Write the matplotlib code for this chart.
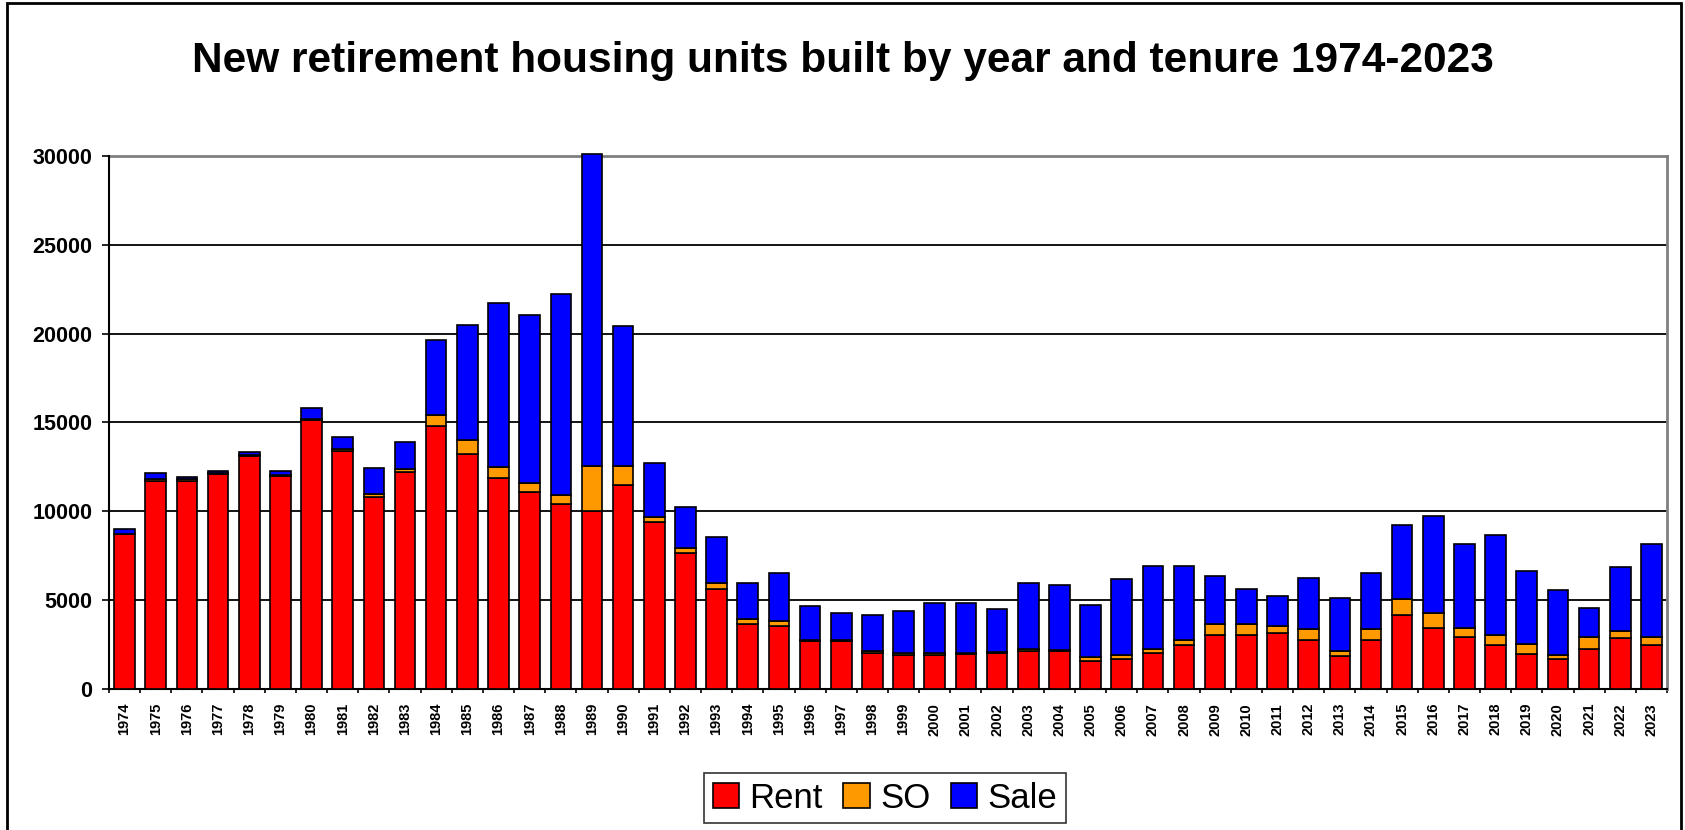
import matplotlib
matplotlib.use("Agg")
import matplotlib.pyplot as plt
import numpy as np
from matplotlib.patches import Rectangle, Patch

plt.rcParams['font.family'] = ['Liberation Sans', 'DejaVu Sans']

years = list(range(1974, 2024))
rent = [8700, 11700, 11700, 12100, 13100, 12000, 15150, 13400, 10800, 12200,
        14800, 13200, 11900, 11100, 10400, 10000, 11500, 9400, 7650, 5650,
        3650, 3550, 2700, 2700, 2050, 1900, 1900, 1950, 2000, 2150,
        2150, 1600, 1700, 2050, 2450, 3050, 3050, 3150, 2750, 1850,
        2750, 4150, 3450, 2950, 2450, 1950, 1700, 2250, 2850, 2450]
so = [50, 100, 100, 50, 50, 50, 50, 100, 200, 200,
      600, 800, 600, 500, 500, 2550, 1050, 300, 300, 300,
      300, 300, 80, 80, 100, 100, 100, 50, 100, 100,
      50, 200, 200, 200, 300, 600, 600, 400, 600, 300,
      600, 900, 800, 500, 600, 600, 200, 700, 400, 500]
sale = [250, 350, 150, 100, 200, 200, 600, 700, 1450, 1500,
        4250, 6500, 9250, 9450, 11350, 17550, 7900, 3000, 2300, 2600,
        2000, 2700, 1900, 1500, 2000, 2400, 2850, 2850, 2400, 3700,
        3650, 2900, 4300, 4700, 4200, 2700, 2000, 1700, 2900, 3000,
        3200, 4200, 5500, 4700, 5600, 4100, 3700, 1600, 3600, 5200]
series_names = ["Rent", "SO", "Sale"]
colors = ["#FF0000", "#FF9900", "#0000FF"]
yticks = [0, 5000, 10000, 15000, 20000, 25000, 30000]
title = "New retirement housing units built by year and tenure 1974-2023"

W, H = 1685, 830
fig = plt.figure(figsize=(W / 100, H / 100), dpi=100)
ax = fig.add_axes([109 / W, 1 - 689 / H, (1667 - 109) / W, (689 - 156) / H])

x = np.arange(len(years))
rent_a = np.array(rent)
so_a = np.array(so)
sale_a = np.array(sale)
bw = 0.66
kw = dict(width=bw, edgecolor="black", linewidth=1.2, zorder=3, clip_on=False)
ax.bar(x, rent_a, color=colors[0], **kw)
ax.bar(x, so_a, bottom=rent_a, color=colors[1], **kw)
ax.bar(x, sale_a, bottom=rent_a + so_a, color=colors[2], **kw)

ax.set_xlim(-0.5, len(years) - 0.5)
ax.set_ylim(0, 30000)
ax.set_yticks(yticks)
ax.set_yticklabels([str(v) for v in yticks], fontsize=15.5, fontweight="bold")
ax.tick_params(axis="y", direction="out", length=5, width=1.2, pad=7)
for v in yticks[1:-1]:
    ax.axhline(v, color="black", linewidth=1.3, zorder=1)

ax.set_xticks(x)
ax.set_xticklabels([str(y) for y in years], rotation=90, fontsize=10.5, fontweight="bold")
ax.tick_params(axis="x", which="major", length=0, pad=10)
ax.set_xticks(np.arange(-0.5, len(years), 1.0), minor=True)
ax.tick_params(axis="x", which="minor", direction="out", length=3, width=1.2)

for s in ["left", "bottom"]:
    ax.spines[s].set_color("black")
    ax.spines[s].set_linewidth(1.5)
for s in ["top", "right"]:
    ax.spines[s].set_color("#808080")
    ax.spines[s].set_linewidth(2)
    ax.spines[s].set_zorder(2)

fig.text(0.5, 1 - 61 / H, title, ha="center", va="center", fontsize=30.5, fontweight="bold")

handles = [Patch(facecolor=c, edgecolor="black", linewidth=1.2) for c in colors]
leg = fig.legend(handles, series_names, loc="center", bbox_to_anchor=(885 / W, 1 - 798 / H),
                 ncol=3, fontsize=25, frameon=True, fancybox=False, edgecolor="black",
                 handlelength=0.75, handleheight=0.75, handletextpad=0.3, columnspacing=0.6,
                 borderpad=0.25, borderaxespad=0)
leg.get_frame().set_linewidth(1.2)

fig.patches.append(Rectangle((7 / W, -0.1), (1681 - 7) / W, 1.1 - 3 / H, transform=fig.transFigure,
                             fill=False, edgecolor="black", linewidth=2))

fig.savefig("out.png", dpi=100)
